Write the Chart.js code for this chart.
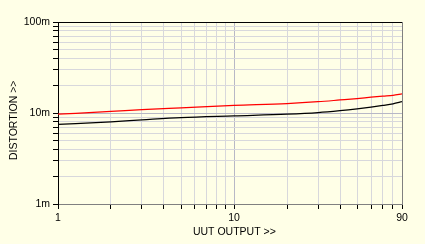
<!DOCTYPE html>
<html><head><meta charset="utf-8">
<script src="https://cdn.jsdelivr.net/npm/chart.js@4"></script>
<style>html,body{margin:0;padding:0;background:#FFFFE7;}#c{display:block;background:#FFFFE7;}</style>
</head><body>
<canvas id="c" width="425" height="244"></canvas>
<script>
// UUT output (x) and distortion in milli-units (y)
const xValues     = [1, 2, 3, 5, 10, 20, 30, 40, 50, 60, 70, 80, 90];
const redSeries   = [9.7, 10.4, 10.9, 11.4, 12.1, 12.7, 13.3, 13.9, 14.4, 14.9, 15.3, 15.6, 16.2];
const blackSeries = [7.5, 8.0, 8.4, 8.9, 9.3, 9.7, 10.1, 10.6, 11.1, 11.6, 12.1, 12.6, 13.3];
const xTickLabels = { 1: '1', 10: '10', 90: '90' };
const yTickLabels = { 1: '1m', 10: '10m', 100: '100m' };

const FONT = { family: "'Liberation Sans', Arial, sans-serif", size: 10.5 };

function isPow10(v) { const l = Math.log10(v); return Math.abs(l - Math.round(l)) < 1e-9; }
function keepIntegerSignificand(scale) {
  scale.ticks = scale.ticks.filter(t => {
    const s = t.value / Math.pow(10, Math.floor(Math.log10(t.value) + 1e-9));
    return Math.abs(s - Math.round(s)) < 1e-6;
  });
}
function gridColor(ctx) {
  return (ctx.tick && isPow10(ctx.tick.value)) ? '#B8B8C6' : '#D8D8DC';
}

const frame = {
  id: 'frame',
  afterDraw(chart) {
    const { ctx, chartArea: a } = chart;
    ctx.save();
    ctx.lineWidth = 1;
    ctx.strokeStyle = '#000';
    ctx.beginPath(); ctx.moveTo(a.left, a.top + 0.5); ctx.lineTo(a.right, a.top + 0.5); ctx.stroke();
    ctx.strokeStyle = '#808080';
    ctx.beginPath(); ctx.moveTo(a.right + 0.5, a.top); ctx.lineTo(a.right + 0.5, a.bottom); ctx.stroke();
    ctx.restore();
  }
};

new Chart(document.getElementById('c'), {
  type: 'line',
  data: {
    datasets: [
      { data: xValues.map((x, i) => ({ x, y: redSeries[i] })), borderColor: '#FF0000', borderWidth: 1.25, pointRadius: 0, cubicInterpolationMode: 'monotone', fill: false },
      { data: xValues.map((x, i) => ({ x, y: blackSeries[i] })), borderColor: '#000000', borderWidth: 1.25, pointRadius: 0, cubicInterpolationMode: 'monotone', fill: false }
    ]
  },
  options: {
    responsive: false,
    animation: false,
    layout: { padding: { top: 22, right: 23, left: 0, bottom: 0 } },
    plugins: { legend: { display: false }, tooltip: { enabled: false } },
    scales: {
      x: {
        type: 'logarithmic', min: 1, max: 90,
        afterBuildTicks: keepIntegerSignificand,
        afterFit(s) { s.height = 40; },
        grid: { color: gridColor, tickColor: '#000', tickLength: 5, lineWidth: 1 },
        border: { color: '#808080', width: 1 },
        ticks: { autoSkip: false, maxRotation: 0, padding: 3, color: '#000', font: FONT,
                 callback: v => xTickLabels[v] !== undefined ? xTickLabels[v] : '' },
        title: { display: true, text: '   UUT OUTPUT >>', color: '#000', font: FONT, padding: { top: 0, bottom: 6 } }
      },
      y: {
        type: 'logarithmic', min: 1, max: 100,
        afterBuildTicks: keepIntegerSignificand,
        afterFit(s) { s.width = 58; },
        grid: { color: gridColor, tickColor: '#000', tickLength: 5, lineWidth: 1 },
        border: { color: '#000', width: 1 },
        ticks: { autoSkip: false, padding: 3, color: '#000', font: FONT,
                 callback: v => yTickLabels[v] !== undefined ? yTickLabels[v] : '' },
        title: { display: true, text: 'DISTORTION >>     ', color: '#000', font: FONT, padding: { top: 8, bottom: 0 } }
      }
    }
  },
  plugins: [frame]
});
</script>
</body></html>
